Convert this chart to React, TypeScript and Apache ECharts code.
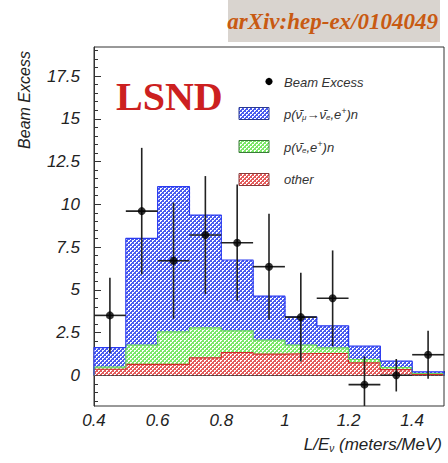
import React, { useEffect, useRef } from "react";
import * as echarts from "echarts";

// Histogram bins (lower edges, L/E in meters/MeV), width 0.1
const binLow = [0.4, 0.5, 0.6, 0.7, 0.8, 0.9, 1.0, 1.1, 1.2, 1.3, 1.4];
const binWidth = 0.1;
// Stacked components (bottom to top)
const otherBkg = [0.35, 0.64, 0.64, 1.02, 1.33, 1.24, 1.27, 1.27, 0.72, 0.33, 0.05];
const nueBkg = [0.12, 1.12, 1.9, 1.75, 1.27, 0.81, 0.49, 0.33, 0.2, 0.12, 0.05];
const oscSignal = [1.15, 6.24, 8.49, 6.6, 4.14, 2.58, 1.66, 1.29, 0.78, 0.37, 0.1];
// Beam excess data points
const excessX = [0.45, 0.55, 0.65, 0.75, 0.85, 0.95, 1.05, 1.15, 1.25, 1.35, 1.45];
const excessY = [3.5, 9.6, 6.7, 8.2, 7.75, 6.35, 3.4, 4.5, -0.55, 0.0, 1.2];
const errUp = [2.2, 3.7, 3.4, 3.45, 3.4, 3.1, 2.6, 2.8, 1.66, 0.95, 1.4];
const errDown = [2.2, 3.7, 3.4, 3.45, 3.4, 3.1, 2.6, 2.8, 1.66, 0.95, 1.4];
// Axis tick labels
const xTicks = [0.4, 0.6, 0.8, 1, 1.2, 1.4];
const yTicks = [0, 2.5, 5, 7.5, 10, 12.5, 15, 17.5];

const X_MIN = 0.4;
const X_MAX = 1.5;
const Y_MIN = -1.8;
const Y_MAX = 19.2;

function makePattern(bg: string): HTMLCanvasElement {
  const c = document.createElement("canvas");
  c.width = 4;
  c.height = 4;
  const ctx = c.getContext("2d")!;
  ctx.fillStyle = bg;
  ctx.fillRect(0, 0, 4, 4);
  ctx.fillStyle = "#ffffff";
  ctx.fillRect(0, 0, 1, 1);
  ctx.fillRect(2, 2, 1, 1);
  ctx.fillRect(1, 0, 1, 1);
  ctx.fillRect(0, 1, 1, 1);
  ctx.fillRect(3, 2, 1, 1);
  ctx.fillRect(2, 3, 1, 1);
  return c;
}

const FONT = "'Liberation Sans', Arial, Helvetica, sans-serif";

export default function App() {
  const ref = useRef<HTMLDivElement>(null);

  useEffect(() => {
    if (!ref.current) return;
    const chart = echarts.init(ref.current, null, { renderer: "svg" });

    const redPat = { image: makePattern("#e45c5c"), repeat: "repeat" };
    const greenPat = { image: makePattern("#7ce868"), repeat: "repeat" };
    const bluePat = { image: makePattern("#4a5cf0"), repeat: "repeat" };

    const layers = [
      { name: "other", vals: otherBkg, fill: redPat, line: "#d42a2a" },
      { name: "nue", vals: nueBkg, fill: greenPat, line: "#6ad85a" },
      { name: "osc", vals: oscSignal, fill: bluePat, line: "#2a3af0" },
    ];

    const base = binLow.map(() => 0);
    const fillSeries: any[] = [];
    const lineSeries: any[] = [];
    layers.forEach((L, k) => {
      const items = binLow.map((x0, i) => {
        const b = base[i];
        const t = b + L.vals[i];
        return [x0, x0 + binWidth, b, t];
      });
      const tops = items.map((it) => it[3]);
      items.forEach((it, i) => (base[i] = it[3]));
      const fill = L.fill;
      fillSeries.push({
        type: "custom",
        name: L.name,
        z: 1 + k * 0.01,
        clip: true,
        encode: { x: [0, 1], y: [2, 3] },
        data: items,
        renderItem: (params: any, api: any) => {
          const p0 = api.coord([api.value(0), api.value(3)]);
          const p1 = api.coord([api.value(1), api.value(2)]);
          return {
            type: "rect",
            shape: {
              x: p0[0],
              y: p0[1],
              width: p1[0] - p0[0] + 0.6,
              height: p1[1] - p0[1],
            },
            style: { fill: fill },
          };
        },
      });
      const stepData: number[][] = [[X_MIN, 0]];
      binLow.forEach((x0, i) => stepData.push([x0, tops[i]]));
      stepData.push([X_MAX, tops[tops.length - 1]]);
      stepData.push([X_MAX, 0]);
      lineSeries.push({
        type: "line",
        step: "end",
        z: 2,
        symbol: "none",
        silent: true,
        data: stepData,
        lineStyle: { color: L.line, width: 1.2 },
      });
    });

    const errData = excessX.map((x, i) => [x, excessY[i], excessY[i] - errDown[i], excessY[i] + errUp[i]]);

    const minorX: number[] = [];
    for (let v = 0.4; v <= 1.5001; v += 0.05) minorX.push(Math.round(v * 100) / 100);
    const minorY: number[] = [];
    for (let v = -1.5; v <= 19.0001; v += 0.5) minorY.push(v);

    const labelStyle = {
      fontFamily: FONT,
      fontStyle: "italic",
      fontSize: 17,
      color: "#222",
    };

    const legendText = {
      fontFamily: FONT,
      fontStyle: "italic",
      fontSize: 13,
      fill: "#333",
    };
    const richLegend = {
      s: { fontFamily: FONT, fontStyle: "italic", fontSize: 8, fill: "#333", padding: [7, 0, 0, 0], verticalAlign: "bottom" },
      p: { fontFamily: FONT, fontStyle: "italic", fontSize: 9, fill: "#333", padding: [0, 0, 6, 0], verticalAlign: "top" },
    };

    chart.setOption({
      animation: false,
      backgroundColor: "#ffffff",
      grid: {
        left: 94,
        right: 4,
        top: 47,
        bottom: 57,
        show: true,
        borderColor: "#333",
        borderWidth: 1,
        backgroundColor: "transparent",
      },
      xAxis: [
        {
          type: "value",
          min: X_MIN,
          max: X_MAX,
          position: "bottom",
          axisLine: { show: true, lineStyle: { color: "#333", width: 1 } },
          splitLine: { show: false },
          axisTick: { show: true, inside: true, length: 7, customValues: xTicks, lineStyle: { color: "#333" } },
          axisLabel: { ...labelStyle, margin: 6, customValues: xTicks, showMinLabel: true, showMaxLabel: true },
        },
        {
          type: "value",
          min: X_MIN,
          max: X_MAX,
          position: "bottom",
          axisLine: { show: false },
          splitLine: { show: false },
          axisTick: { show: true, inside: true, length: 4, customValues: minorX, lineStyle: { color: "#333" } },
          axisLabel: { show: false },
        },
      ],
      yAxis: [
        {
          type: "value",
          min: Y_MIN,
          max: Y_MAX,
          position: "left",
          axisLine: { show: true, lineStyle: { color: "#333", width: 1 } },
          splitLine: { show: false },
          axisTick: { show: true, inside: true, length: 7, customValues: yTicks, lineStyle: { color: "#333" } },
          axisLabel: { ...labelStyle, margin: 14, customValues: yTicks },
        },
        {
          type: "value",
          min: Y_MIN,
          max: Y_MAX,
          position: "left",
          axisLine: { show: false },
          splitLine: { show: false },
          axisTick: { show: true, inside: true, length: 4, customValues: minorY, lineStyle: { color: "#333" } },
          axisLabel: { show: false },
        },
      ],
      series: [
        ...fillSeries,
        ...lineSeries,
        {
          type: "custom",
          name: "errors",
          z: 3,
          clip: true,
          encode: { x: 0, y: [2, 3] },
          data: errData,
          renderItem: (params: any, api: any) => {
            const x = api.value(0);
            const y = api.value(1);
            const lo = api.coord([x, api.value(2)]);
            const hi = api.coord([x, api.value(3)]);
            const l = api.coord([x - binWidth / 2, y]);
            const r = api.coord([x + binWidth / 2, y]);
            const st = { stroke: "#222", lineWidth: 1.6 };
            return {
              type: "group",
              children: [
                { type: "line", shape: { x1: lo[0], y1: lo[1], x2: hi[0], y2: hi[1] }, style: st },
                { type: "line", shape: { x1: l[0], y1: l[1], x2: r[0], y2: r[1] }, style: st },
              ],
            };
          },
        },
        {
          type: "scatter",
          name: "Beam Excess",
          z: 4,
          symbol: "circle",
          symbolSize: 8,
          itemStyle: { color: "#000" },
          data: excessX.map((x, i) => [x, excessY[i]]),
        },
      ],
      graphic: [
        {
          type: "rect",
          shape: { x: 228, y: 0, width: 212, height: 42 },
          style: { fill: "#d9d4cf" },
        },
        {
          type: "text",
          x: 438,
          y: 21,
          style: {
            text: "arXiv:hep-ex/0104049",
            font: "italic bold 23px 'Liberation Serif', 'Times New Roman', serif",
            fill: "#c85a12",
            align: "right",
            verticalAlign: "middle",
          },
        },
        {
          type: "text",
          x: 116,
          y: 96,
          z: 10,
          style: {
            text: "LSND",
            font: "bold 40px 'Liberation Serif', 'Times New Roman', serif",
            fill: "#cc2020",
            align: "left",
            verticalAlign: "middle",
          },
        },
        {
          type: "text",
          x: 24,
          y: 100,
          rotation: Math.PI / 2,
          style: {
            text: "Beam Excess",
            fontFamily: FONT,
            fontStyle: "italic",
            fontSize: 16,
            fill: "#222",
            align: "center",
            verticalAlign: "middle",
          },
        },
        {
          type: "text",
          x: 442,
          y: 444,
          style: {
            text: "L/E{s|ν} (meters/MeV)",
            fontFamily: FONT,
            fontStyle: "italic",
            fontSize: 17,
            fill: "#222",
            align: "right",
            verticalAlign: "middle",
            rich: {
              s: { fontFamily: FONT, fontStyle: "italic", fontSize: 10, fill: "#222", padding: [9, 0, 0, 0], verticalAlign: "bottom" },
            },
          },
        },
        // legend
        { type: "circle", z: 10, shape: { cx: 269, cy: 81.5, r: 3.6 }, style: { fill: "#000" } },
        {
          type: "text",
          z: 10,
          x: 284,
          y: 82,
          style: { ...legendText, text: "Beam Excess", verticalAlign: "middle", align: "left" },
        },
        {
          type: "rect",
          z: 10,
          shape: { x: 239, y: 107.5, width: 30, height: 12 },
          style: { fill: bluePat, stroke: "#2a3a90", lineWidth: 1 },
        },
        {
          type: "text",
          z: 10,
          x: 284,
          y: 114,
          style: {
            ...legendText,
            text: "p(ν̄{s|μ}→ν̄{s|e},e{p|+})n",
            verticalAlign: "middle",
            align: "left",
            rich: richLegend,
          },
        },
        {
          type: "rect",
          z: 10,
          shape: { x: 239, y: 140.5, width: 30, height: 12 },
          style: { fill: greenPat, stroke: "#3a7a3a", lineWidth: 1 },
        },
        {
          type: "text",
          z: 10,
          x: 284,
          y: 147,
          style: {
            ...legendText,
            text: "p(ν̄{s|e},e{p|+})n",
            verticalAlign: "middle",
            align: "left",
            rich: richLegend,
          },
        },
        {
          type: "rect",
          z: 10,
          shape: { x: 239, y: 173.5, width: 30, height: 12 },
          style: { fill: redPat, stroke: "#8a3a3a", lineWidth: 1 },
        },
        {
          type: "text",
          z: 10,
          x: 284,
          y: 179,
          style: { ...legendText, text: "other", verticalAlign: "middle", align: "left" },
        },
      ],
    });

    return () => chart.dispose();
  }, []);

  return (
    <div
      ref={ref}
      style={{ position: "absolute", left: 0, top: 0, width: 448, height: 463, background: "#fff" }}
    />
  );
}
